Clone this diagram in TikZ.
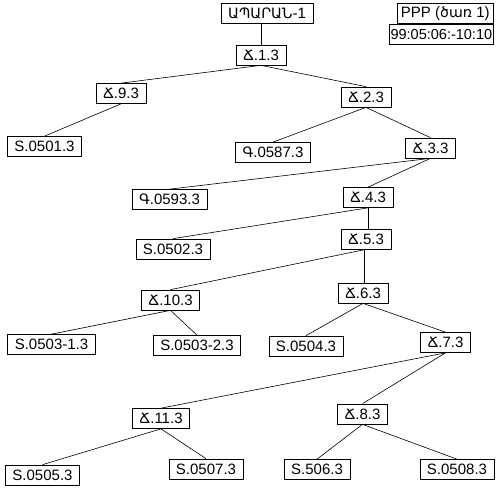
\documentclass[tikz,border=0pt]{standalone}
\usepackage{fontspec}
\setmainfont{Liberation Sans}
\newfontfamily\armfont{DejaVu Sans}[Scale=0.95]
\newcommand{\arm}[1]{{\armfont #1}}
\usetikzlibrary{positioning}

\begin{document}
\begin{tikzpicture}[
    x=1pt, y=-1pt,
    every node/.style={font=\fontsize{15}{17}\selectfont},
    box/.style={draw, rectangle, line width=0.7pt, inner xsep=7pt, inner ysep=0pt, minimum height=20pt},
    link/.style={line width=0.6pt}
]
    \useasboundingbox (0,0) rectangle (501,493);

    % Well name and tree label
    \node[box, minimum width=92pt] (well) at (267,13.5) {\arm{ԱՊԱՐԱՆ}-1};
    \node[box, anchor=north east, inner xsep=4pt] (tree) at (494,3) {PPP (\arm{ծառ} 1)};
    \node[box, anchor=north east, inner xsep=1.5pt, font=\fontsize{14.5}{17}\selectfont] (date) at (tree.south east) {99:05:06:-10:10};

    % Fracture nodes
    \node[box] (f1) at (261,55) {\arm{Ճ}.1.3};
    \node[box] (f9) at (121,93.5) {\arm{Ճ}.9.3};
    \node[box] (f2) at (366,97) {\arm{Ճ}.2.3};
    \node[box] (f3) at (430.5,148) {\arm{Ճ}.3.3};
    \node[box] (f4) at (368,197.5) {\arm{Ճ}.4.3};
    \node[box] (f5) at (366,239) {\arm{Ճ}.5.3};
    \node[box] (f10) at (170.5,300) {\arm{Ճ}.10.3};
    \node[box] (f6) at (363,293) {\arm{Ճ}.6.3};
    \node[box] (f7) at (445.5,342.5) {\arm{Ճ}.7.3};
    \node[box] (f11) at (161,418.5) {\arm{Ճ}.11.3};
    \node[box] (f8) at (362.5,414) {\arm{Ճ}.8.3};

    % Leaves
    \node[box] (s0501) at (44.5,146.5) {S.0501.3};
    \node[box] (g0587) at (273,152.5) {\arm{Գ}.0587.3};
    \node[box] (g0593) at (169.5,199.5) {\arm{Գ}.0593.3};
    \node[box] (s0502) at (173,249) {S.0502.3};
    \node[box] (s0503a) at (51.5,344.5) {S.0503-1.3};
    \node[box] (s0503b) at (197,345.5) {S.0503-2.3};
    \node[box] (s0504) at (306,346) {S.0504.3};
    \node[box] (s0505) at (42.5,475) {S.0505.3};
    \node[box] (s0507) at (206,469) {S.0507.3};
    \node[box] (s506) at (317,469.5) {S.506.3};
    \node[box] (s0508) at (457,469.5) {S.0508.3};

    % Links
    \draw[link] (f1.north) -- (f1.north |- well.south);
    \draw[link] (f1.south) -- (f9.north);
    \draw[link] (f1.south) -- (f2.north);
    \draw[link] (f9.south) -- (s0501.north);
    \draw[link] (f2.south) -- (g0587.north);
    \draw[link] (f2.south) -- (f3.north);
    \draw[link] (f3.south) -- (g0593.north);
    \draw[link] (f3.south) -- (f4.north);
    \draw[link] (f4.south) -- (s0502.north);
    \draw[link] (f4.south) -- (f4.south |- f5.north);
    \draw[link] (f5.south) -- (f10.north);
    \draw[link] ([xshift=-2pt]f5.south) -- ([xshift=-2pt]f5.south |- f6.north);
    \draw[link] (f10.south) -- (s0503a.north);
    \draw[link] (f10.south) -- (s0503b.north);
    \draw[link] (f6.south) -- (s0504.north);
    \draw[link] (f6.south) -- (f7.north);
    \draw[link] (f7.south) -- (f11.north);
    \draw[link] (f7.south) -- (f8.north);
    \draw[link] (f11.south) -- (s0505.north);
    \draw[link] (f11.south) -- (s0507.north);
    \draw[link] (f8.south) -- (s506.north);
    \draw[link] (f8.south) -- (s0508.north);
\end{tikzpicture}
\end{document}
